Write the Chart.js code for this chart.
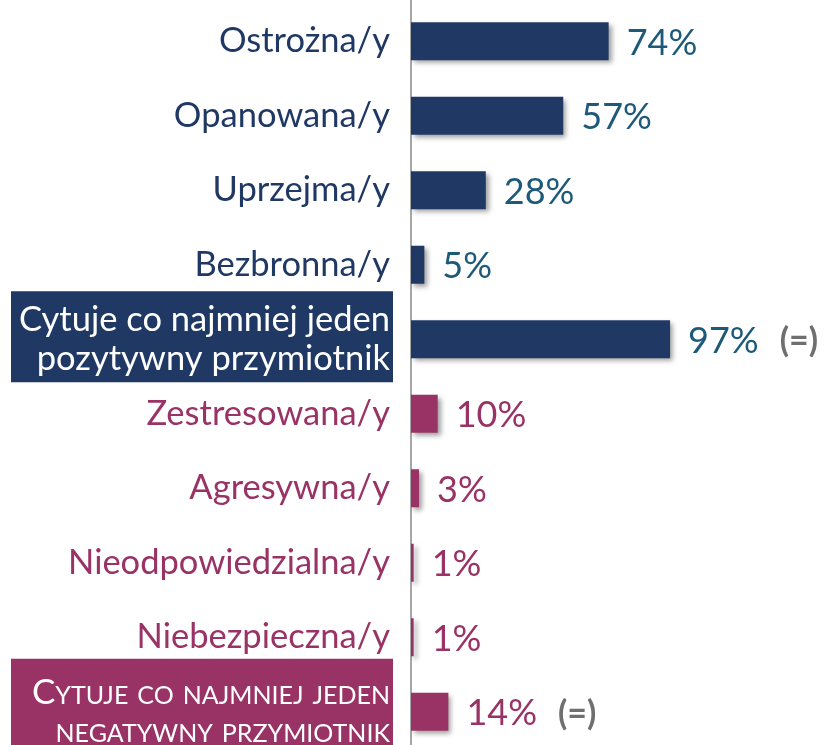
<!DOCTYPE html>
<html><head><meta charset="utf-8">
<script src="https://cdn.jsdelivr.net/npm/chart.js@4"></script>
<style>
html,body{margin:0;padding:0;background:#fff;overflow:hidden;width:825px;height:745px}
#wrap{position:absolute;left:0;top:-80px;width:825px;height:830px}
</style>
</head><body><div id="wrap"><canvas id="c"></canvas></div>
<script>
// First row is cropped at the top of the original picture (its bar is not visible)
const categories = [
  "Skupiona/y",
  "Ostrożna/y",
  "Opanowana/y",
  "Uprzejma/y",
  "Bezbronna/y",
  ["Cytuje co najmniej jeden", "pozytywny przymiotnik"],
  "Zestresowana/y",
  "Agresywna/y",
  "Nieodpowiedzialna/y",
  "Niebezpieczna/y",
  ["Cytuje co najmniej jeden", "negatywny przymiotnik"]
];
const values      = [null, 74, 57, 28, 5, 97, 10, 3, 1, 1, 14];
const sentiment   = ["positive","positive","positive","positive","positive","positive",
                     "negative","negative","negative","negative","negative"];
const isSummary   = [false,false,false,false,false,true,false,false,false,false,true];
const changeMarks = [null,null,null,null,null,"(=)",null,null,null,null,"(=)"];

const NAVY = '#1f3864', PINK = '#993366', TEAL = '#1d5a7a', GREY = '#6f6f6f';

const boxPlugin = {
  id: 'boxes',
  beforeDraw(chart) {
    const ctx = chart.ctx, ys = chart.scales.y;
    isSummary.forEach((s, i) => {
      if (!s) return;
      const c = ys.getPixelForValue(i);
      ctx.save();
      ctx.fillStyle = sentiment[i] === 'positive' ? NAVY : PINK;
      if (sentiment[i] === 'positive') ctx.fillRect(11, c - 48, 382, 91);
      else ctx.fillRect(11, c - 53, 382, 110);
      ctx.restore();
    });
  }
};

const labelPlugin = {
  id: 'valueLabels',
  beforeDatasetsDraw(chart) {
    const ctx = chart.ctx;
    ctx.save();
    ctx.shadowColor = 'rgba(0,0,0,0.38)';
    ctx.shadowBlur = 5;
    ctx.shadowOffsetX = 3;
    ctx.shadowOffsetY = 3;
  },
  afterDatasetsDraw(chart) {
    const ctx = chart.ctx;
    ctx.restore();
    const meta = chart.getDatasetMeta(0);
    meta.data.forEach((bar, i) => {
      const v = values[i];
      if (v == null) return;
      ctx.save();
      ctx.font = '36px Lato';
      ctx.textBaseline = 'middle';
      ctx.textAlign = 'left';
      ctx.fillStyle = sentiment[i] === 'positive' ? TEAL : PINK;
      const txt = v + '%';
      const x = bar.x + 18;
      ctx.fillText(txt, x, bar.y + 2);
      if (changeMarks[i]) {
        const w = ctx.measureText(txt).width;
        ctx.font = 'bold 34px Lato';
        ctx.fillStyle = GREY;
        ctx.fillText(changeMarks[i], x + w + 21, bar.y + 2);
      }
      ctx.restore();
    });
  }
};

new Chart(document.getElementById('c'), {
  type: 'bar',
  data: {
    labels: categories,
    datasets: [{
      data: values,
      backgroundColor: sentiment.map(s => s === 'positive' ? NAVY : PINK),
      borderWidth: 0,
      barPercentage: 0.51,
      categoryPercentage: 1
    }]
  },
  options: {
    indexAxis: 'y',
    responsive: true,
    maintainAspectRatio: false,
    animation: false,
    layout: { padding: { top: 9.5, bottom: 1, left: 0, right: 0 } },
    plugins: { legend: { display: false }, tooltip: { enabled: false } },
    scales: {
      x: { display: false, min: 0, max: 155 },
      y: {
        afterFit(scale) { scale.width = 411; scale.paddingTop = 0; scale.paddingBottom = 0; },
        grid: { display: false, drawTicks: false },
        border: { display: true, color: '#a6a6a6', width: 2 },
        ticks: {
          autoSkip: false,
          padding: 21,
          color: (c) => isSummary[c.index] ? '#ffffff' : (sentiment[c.index] === 'positive' ? NAVY : PINK),
          font: (c) => (isSummary[c.index] && sentiment[c.index] === 'negative')
            ? { family: 'Lato', size: 35, weight: 'small-caps 400', lineHeight: 1.1 }
            : { family: 'Lato', size: 34.5, lineHeight: 1.13 }
        }
      }
    }
  },
  plugins: [boxPlugin, labelPlugin]
});
</script>
</body></html>
